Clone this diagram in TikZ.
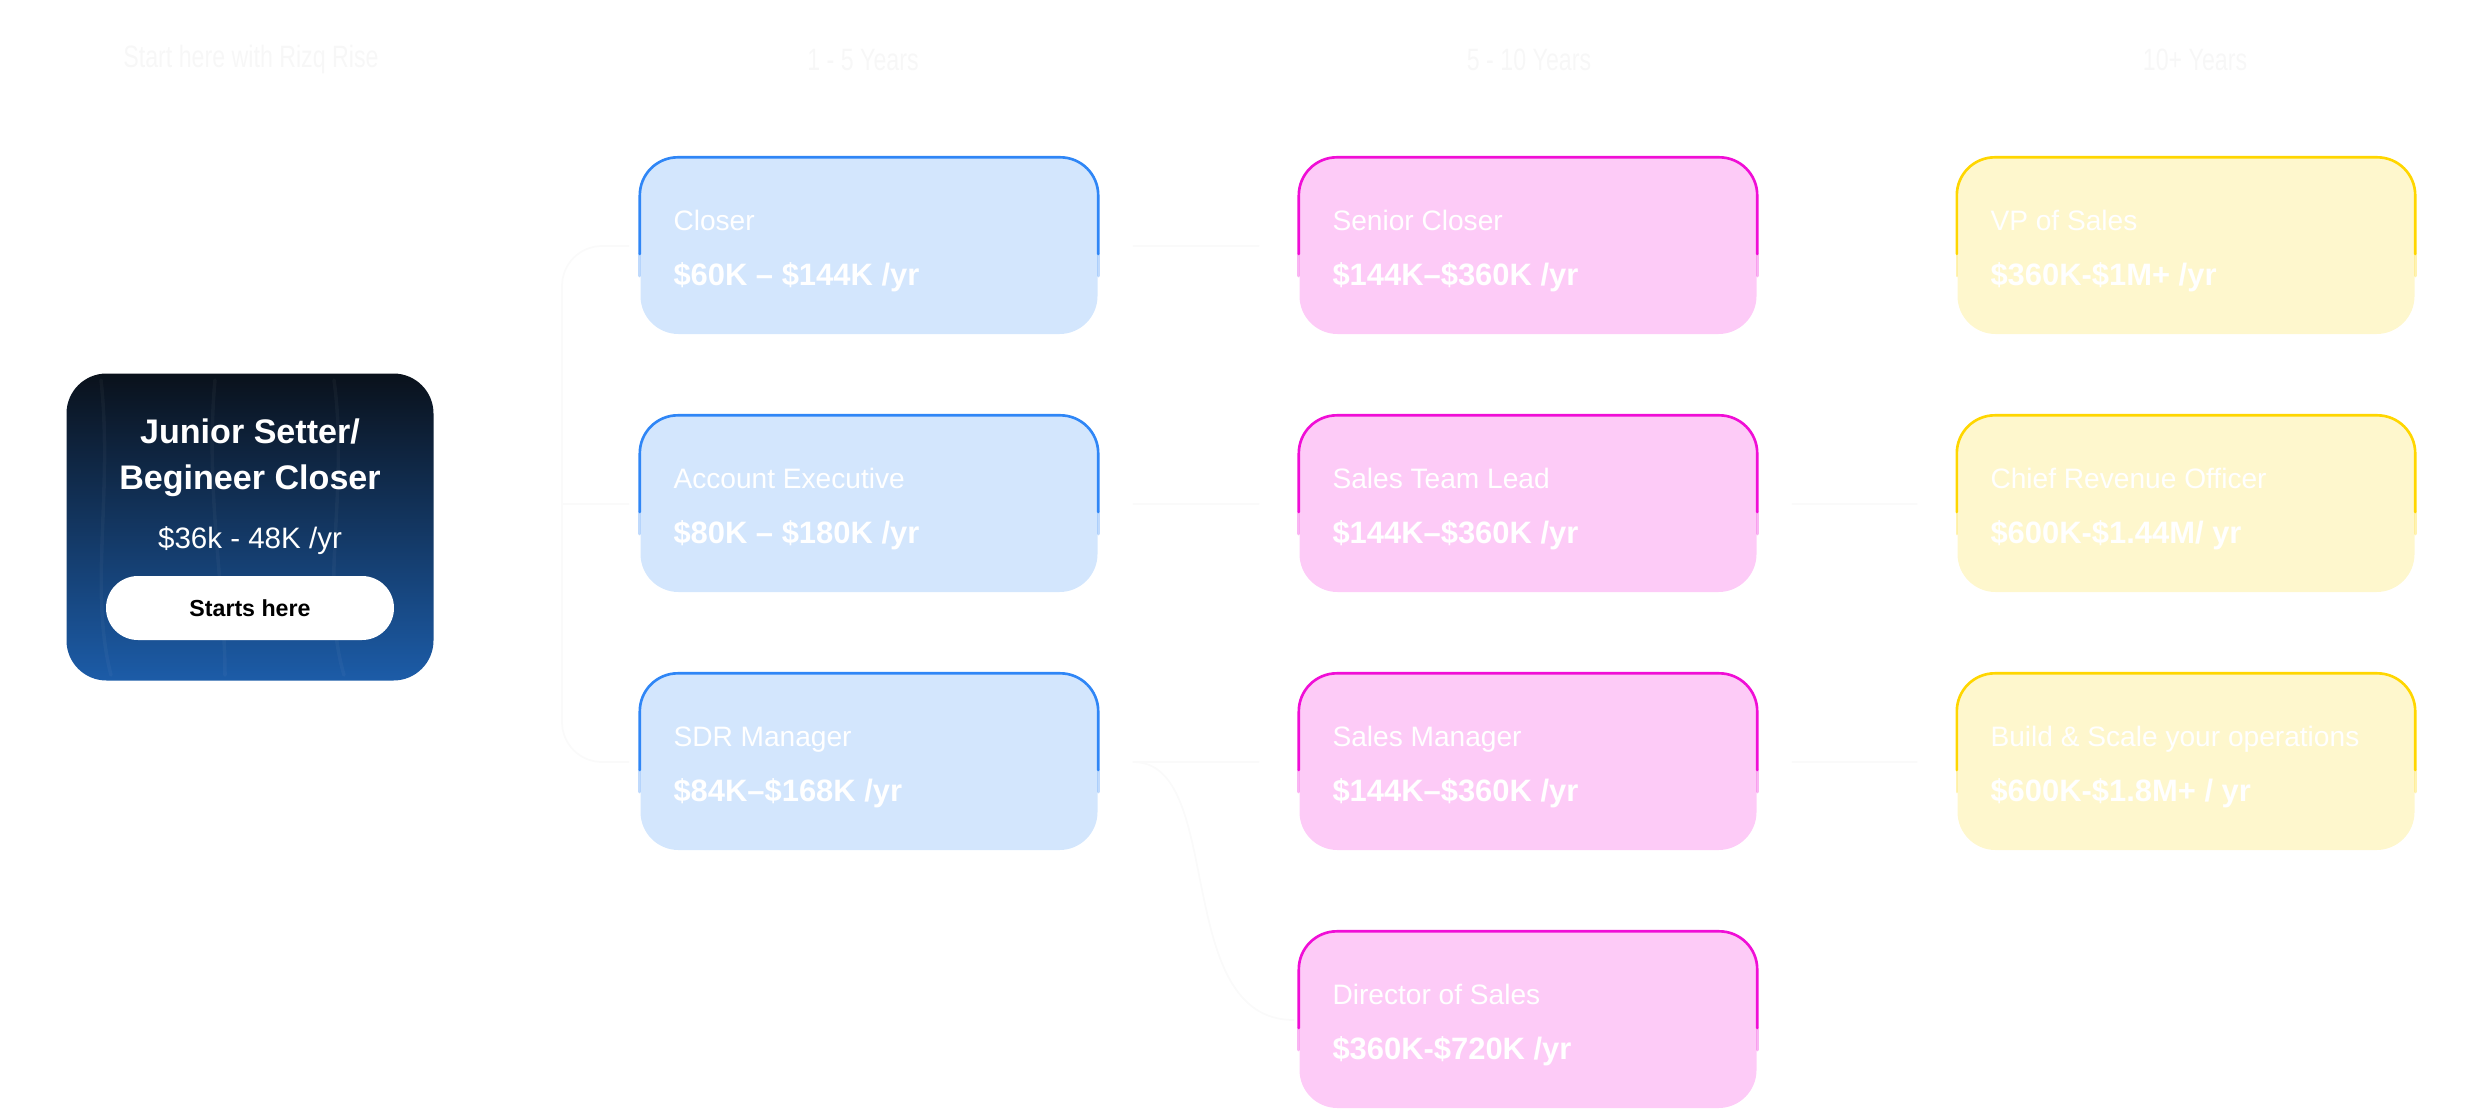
\documentclass[tikz,border=0pt]{standalone}
\usepackage{fontspec}
\setmainfont{Liberation Sans}
\newfontfamily\narrowfont{Liberation Sans}[FakeStretch=0.75]
\usetikzlibrary{positioning}
\definecolor{blueFill}{HTML}{D3E6FD}
\definecolor{blueEdge}{HTML}{2F86F6}
\definecolor{pinkFill}{HTML}{FDCBF7}
\definecolor{pinkEdge}{HTML}{F00ED6}
\definecolor{yellowFill}{HTML}{FEF7CD}
\definecolor{yellowEdge}{HTML}{FFD600}
\definecolor{starterTop}{HTML}{0A111B}
\definecolor{starterBottom}{HTML}{1C5CA8}
\begin{document}
\begin{tikzpicture}[line join=round, line cap=round, >=stealth]
	\tikzset{
		role/.style={rectangle, rounded corners=0.38cm, minimum width=4.57cm, minimum height=1.76cm, inner sep=0pt},
		blue-box/.style={role, fill=blueFill}, blue-edge/.style={draw=blueEdge, line width=0.75pt},
		pink-box/.style={role, fill=pinkFill}, pink-edge/.style={draw=pinkEdge, line width=0.75pt},
		yellow-box/.style={role, fill=yellowFill}, yellow-edge/.style={draw=yellowEdge, line width=0.75pt},
		role-title/.style={text=white, font=\fontsize{8}{9.6}\selectfont, anchor=base west, inner sep=0pt},
		role-pay/.style={text=white, font=\bfseries\fontsize{8.8}{10.5}\selectfont, anchor=base west, inner sep=0pt},
		link-line/.style={draw=black!2, line width=0.5pt, rounded corners=0.4cm},
		header/.style={text=black!3, font=\narrowfont\fontsize{8.8}{10}\selectfont},
		starter/.style={rectangle, rounded corners=0.4cm, minimum width=3.67cm, minimum height=3.07cm, top color=starterTop, bottom color=starterBottom, inner sep=0pt},
		start-btn/.style={rectangle, rounded corners=0.32cm, fill=white, minimum width=2.88cm, minimum height=0.64cm, text=black, font=\bfseries\fontsize{6.6}{8}\selectfont}
	}
	\useasboundingbox (0,0) rectangle (24.8,11.1);
	% column headers
	\node[header] (head-start) at (2.51,10.50) {Start here with Rizq Rise};
	\node[header] (head-one) at (8.63,10.50) {1 - 5 Years};
	\node[header] (head-five) at (15.29,10.50) {5 - 10 Years};
	\node[header] (head-ten) at (21.95,10.50) {10+ Years};
	% starting card
	\node[starter] (junior) at (2.50,5.83) {};
	\foreach \x/\b in {1.01/0.12, 2.15/-0.1, 3.34/0.15}
	\draw[white, opacity=0.035, line width=1pt] (\x,7.3) .. controls (\x+\b,6.2) and (\x-\b,5.2) .. (\x+0.1,4.35);
	\node[text=white, align=center, font=\bfseries\fontsize{9.7}{13.1}\selectfont] (junior-title) at (2.50,6.52) {Junior Setter/\\Begineer Closer};
	\node[text=white, font=\fontsize{8.4}{10}\selectfont] (junior-pay) at (2.50,5.69) {\$36k - 48K /yr};
	\node[start-btn] (starts) at (2.50,5.02) {Starts here};
	% role cards
	\foreach \n/\x/\y/\s/\t/\p in {
		closer/8.69/8.64/blue/Closer/{\$60K – \$144K /yr},
		acct-exec/8.69/6.06/blue/Account Executive/{\$80K – \$180K /yr},
		sdr-mgr/8.69/3.48/blue/SDR Manager/{\$84K–\$168K /yr},
		sr-closer/15.28/8.64/pink/Senior Closer/{\$144K–\$360K /yr},
		team-lead/15.28/6.06/pink/Sales Team Lead/{\$144K–\$360K /yr},
		sales-mgr/15.28/3.48/pink/Sales Manager/{\$144K–\$360K /yr},
		director/15.28/0.90/pink/Director of Sales/{\$360K-\$720K /yr},
		vp-sales/21.86/8.64/yellow/VP of Sales/{\$360K-\$1M+ /yr},
		cro/21.86/6.06/yellow/Chief Revenue Officer/{\$600K-\$1.44M/ yr},
		build-scale/21.86/3.48/yellow/{Build \& Scale your operations}/{\$600K-\$1.8M+ / yr}}
	{
		\node[\s-box] (\n) at (\x,\y) {};
		\draw[\s-edge, rounded corners=0.38cm] ([yshift=-0.08cm]\n.west) |- (\n.north) -| ([yshift=-0.08cm]\n.east);
		\draw[\s-edge, opacity=0.3] ([yshift=-0.08cm]\n.west) -- ([yshift=-0.3cm]\n.west);
		\draw[\s-edge, opacity=0.3] ([yshift=-0.08cm]\n.east) -- ([yshift=-0.3cm]\n.east);
		\node[role-title] (\n-title) at ([xshift=0.33cm,yshift=-0.73cm]\n.north west) {\t};
		\node[role-pay] (\n-pay) at ([xshift=0.33cm,yshift=-1.28cm]\n.north west) {\p};
	}
	% faint connectors
	\coordinate (fork-a) at (5.62,6.06);
	\draw[link-line, shorten >=0.11cm] (fork-a) |- (closer.west);
	\draw[link-line, shorten >=0.11cm] (fork-a) -- (acct-exec.west);
	\draw[link-line, shorten >=0.11cm] (fork-a) |- (sdr-mgr.west);
	\foreach \a/\b in {closer/sr-closer, acct-exec/team-lead, sdr-mgr/sales-mgr, team-lead/cro, sales-mgr/build-scale}
	\draw[link-line, shorten <=0.35cm, shorten >=0.4cm] (\a.east) -- (\b.west);
	\draw[link-line, shorten <=0.35cm, shorten >=0.05cm] (sdr-mgr.east) to[out=0, in=180] (director.west);
\end{tikzpicture}
\end{document}
